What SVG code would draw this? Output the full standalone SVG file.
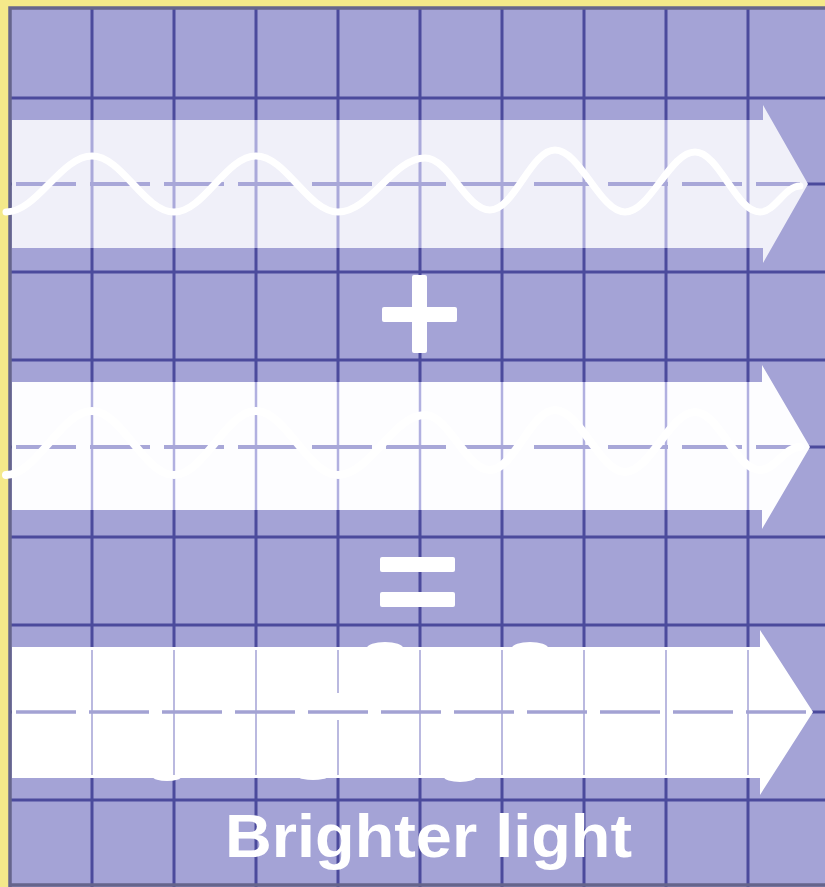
<svg xmlns="http://www.w3.org/2000/svg" width="825" height="887" viewBox="0 0 825 887">
<style>
.grid line{stroke:#4b4a9c;stroke-width:3}
.frame{stroke:#66658c;stroke-width:3.5;fill:none}
.arrow{stroke:none}
.inl{stroke:#aaa9da;stroke-width:3}
.dash{stroke:#a8a7d8;stroke-width:4;stroke-dasharray:60 14;fill:none}
.wave{fill:none;stroke:#ffffff;stroke-linecap:round;stroke-linejoin:round}
.sym{fill:#ffffff}
.label{font-family:"Liberation Sans",Arial,sans-serif;font-weight:bold;font-size:61px;fill:#ffffff}
</style>
<rect x="0" y="0" width="825" height="887" fill="#f4e98a"/>
<rect x="10" y="7" width="815" height="880" fill="#a4a3d6"/>
<g id="grid" class="grid">
<line x1="92" y1="7" x2="92" y2="887"/>
<line x1="174" y1="7" x2="174" y2="887"/>
<line x1="256" y1="7" x2="256" y2="887"/>
<line x1="338" y1="7" x2="338" y2="887"/>
<line x1="420" y1="7" x2="420" y2="887"/>
<line x1="502" y1="7" x2="502" y2="887"/>
<line x1="584" y1="7" x2="584" y2="887"/>
<line x1="666" y1="7" x2="666" y2="887"/>
<line x1="748" y1="7" x2="748" y2="887"/>
<line x1="10" y1="98" x2="825" y2="98"/>
<line x1="10" y1="184" x2="825" y2="184"/>
<line x1="10" y1="272" x2="825" y2="272"/>
<line x1="10" y1="360" x2="825" y2="360"/>
<line x1="10" y1="447" x2="825" y2="447"/>
<line x1="10" y1="537" x2="825" y2="537"/>
<line x1="10" y1="625" x2="825" y2="625"/>
<line x1="10" y1="712" x2="825" y2="712"/>
<line x1="10" y1="800" x2="825" y2="800"/>
</g>
<path class="frame" d="M10,887 V8 H825 M10,885 H825"/>
<g id="arrow1">
<path class="arrow" fill="#f0f0f9" d="M12,120 H763 V105 L808,184 L763,263 V248 H12 Z"/>
<g class="inl">
<line x1="92" y1="120" x2="92" y2="248"/><line x1="174" y1="120" x2="174" y2="248"/><line x1="256" y1="120" x2="256" y2="248"/><line x1="338" y1="120" x2="338" y2="248"/><line x1="420" y1="120" x2="420" y2="248"/><line x1="502" y1="120" x2="502" y2="248"/><line x1="584" y1="120" x2="584" y2="248"/><line x1="666" y1="120" x2="666" y2="248"/><line x1="748" y1="120" x2="748" y2="248"/>
</g>
<line class="dash" x1="16" y1="184" x2="800" y2="184"/>
<path class="wave" stroke-width="7" d="M6,212 C37,212 61,156 92,156 C122,156 144,212 174,212 C204,212 226,156 256,156 C286,156 308,212 338,212 C370,212 393,158 425,158 C449,158 466,210 490,210 C514,210 531,150 555,150 C580,150 600,212 625,212 C650,212 670,152 695,152 C719,152 736,212 760,212 C775,212 785,186 800,186"/>
</g>
<g id="plus" class="sym">
<rect x="382" y="307" width="75" height="15" rx="2"/>
<rect x="412" y="275" width="15" height="78" rx="2"/>
</g>
<g id="arrow2">
<path class="arrow" fill="#fdfdff" d="M12,382 H762 V365 L810,447 L762,529 V510 H12 Z"/>
<g class="inl" style="stroke:#b1b0e0;stroke-width:2.5">
<line x1="92" y1="382" x2="92" y2="510"/><line x1="174" y1="382" x2="174" y2="510"/><line x1="256" y1="382" x2="256" y2="510"/><line x1="338" y1="382" x2="338" y2="510"/><line x1="420" y1="382" x2="420" y2="510"/><line x1="502" y1="382" x2="502" y2="510"/><line x1="584" y1="382" x2="584" y2="510"/><line x1="666" y1="382" x2="666" y2="510"/><line x1="748" y1="382" x2="748" y2="510"/>
</g>
<line class="dash" x1="16" y1="447" x2="802" y2="447"/>
<path class="wave" stroke-width="8" d="M6,475 C37,475 61,411 92,411 C122,411 144,475 174,475 C204,475 226,411 256,411 C286,411 308,475 338,475 C370,475 393,415 425,415 C449,415 466,470 490,470 C514,470 531,410 555,410 C580,410 600,472 625,472 C650,472 670,412 695,412 C719,412 736,470 760,470 C775,470 785,447 800,447"/>
</g>
<g id="equals" class="sym">
<rect x="380" y="557" width="75" height="15" rx="2"/>
<rect x="380" y="592" width="75" height="15" rx="2"/>
</g>
<g id="arrow3">
<path class="arrow" fill="#ffffff" d="M12,647 H760 V630 L813,712 L760,795 V778 H12 Z"/>
<ellipse cx="385" cy="648" rx="18" ry="6" fill="#ffffff"/>
<ellipse cx="530" cy="648" rx="18" ry="6" fill="#ffffff"/>
<ellipse cx="167" cy="777" rx="14" ry="4" fill="#ffffff"/>
<ellipse cx="313" cy="777" rx="14" ry="3" fill="#ffffff"/>
<ellipse cx="460" cy="777" rx="16" ry="5" fill="#ffffff"/>
<g class="inl" style="stroke:#a9a8d8;stroke-width:1.6">
<line x1="92" y1="650" x2="92" y2="775"/><line x1="174" y1="650" x2="174" y2="775"/><line x1="256" y1="650" x2="256" y2="775"/><line x1="338" y1="650" x2="338" y2="693"/><line x1="338" y1="720" x2="338" y2="775"/><line x1="420" y1="650" x2="420" y2="775"/><line x1="502" y1="650" x2="502" y2="775"/><line x1="584" y1="650" x2="584" y2="775"/><line x1="666" y1="650" x2="666" y2="775"/><line x1="748" y1="650" x2="748" y2="775"/>
</g>
<line class="dash" x1="16" y1="712" x2="806" y2="712" style="stroke:#a3a2d3;stroke-width:3.5;stroke-dasharray:60 13"/>
</g>
<g id="label">
<text class="label" x="225" y="857" textLength="407" lengthAdjust="spacingAndGlyphs">Brighter light</text>
</g>
</svg>
